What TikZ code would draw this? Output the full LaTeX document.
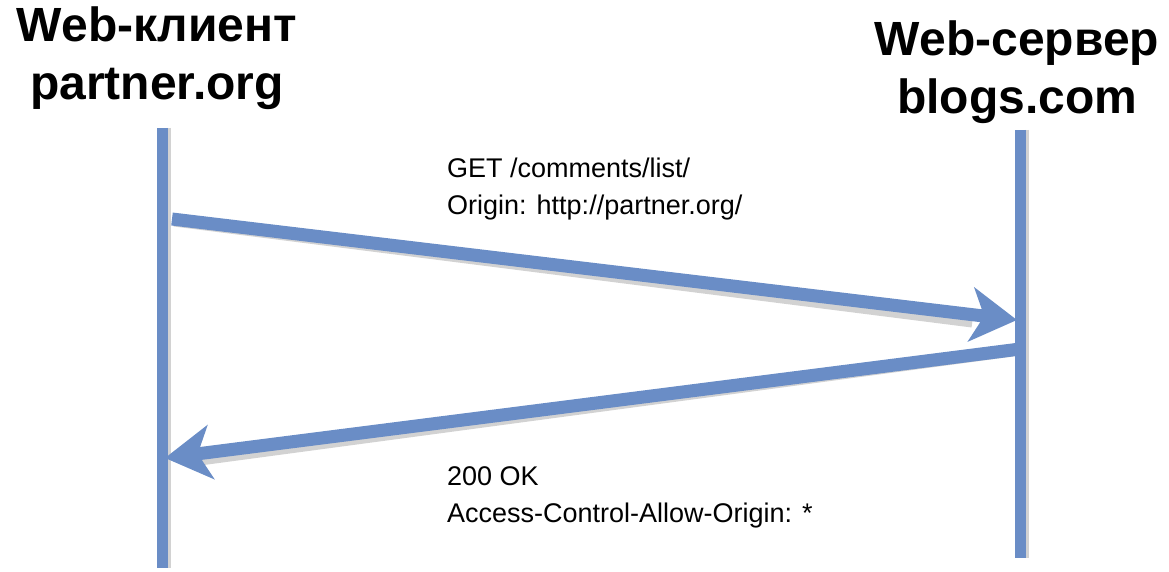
\documentclass[tikz,border=0pt]{standalone}
\usepackage{fontspec}
\setmainfont{Liberation Sans}
\usetikzlibrary{arrows.meta}

\definecolor{lineblue}{RGB}{106,141,198}
\definecolor{shadowgray}{RGB}{210,210,210}

\tikzset{
    lifeline/.style={line width=11pt, lineblue},
    lifeshadow/.style={line width=4pt, shadowgray},
    msg/.style={line width=13pt, lineblue, -{Stealth[length=46pt, width=54pt, inset=13pt]}},
    msgshadow/.style={line width=7pt, shadowgray},
    title/.style={font=\bfseries\fontsize{48}{58}\selectfont, align=center},
    label/.style={font=\fontsize{27}{37}\selectfont, align=left, anchor=north west, inner sep=0pt}
}

\begin{document}
\begin{tikzpicture}[x=1pt, y=-1pt]
    \useasboundingbox (0,0) rectangle (1169,572);

    \node (client) at (157,58) [title] {Web-клиент\\partner.org};
    \node (server) at (1017,72) [title] {Web-сервер\\blogs.com};

    \coordinate (ctop) at (162,128);
    \coordinate (cbot) at (162,568);
    \coordinate (stop) at (1020,130);
    \coordinate (sbot) at (1020,558);

    \coordinate (req1) at (172,219);
    \coordinate (req2) at (1017,320);
    \coordinate (resp1) at (1020,349);
    \coordinate (resp2) at (165,458);

    % shadows
    \draw [lifeshadow] ([xshift=7pt]ctop)--([xshift=7pt]cbot);
    \draw [lifeshadow] ([xshift=7pt]stop)--([xshift=7pt]sbot);
    \draw [msgshadow] ([shift={(2pt,-4pt)}]req1)--([shift={(-45pt,-4pt)}]req2);
    \draw [msgshadow] ([shift={(-7pt,-4pt)}]resp1)--([shift={(35pt,-4pt)}]resp2);

    % lifelines
    \draw [lifeline] (ctop)--(cbot);
    \draw [lifeline] (stop)--(sbot);

    % request
    \draw [msg] (req1)--(req2);
    \node (get) at (447,158) [label] {GET /comments/list/\\Origin: http://partner.org/};

    % response
    \draw [msg] (resp1)--(resp2);
    \node (ok) at (447,466) [label] {200 OK\\Access-Control-Allow-Origin: *};
\end{tikzpicture}
\end{document}
